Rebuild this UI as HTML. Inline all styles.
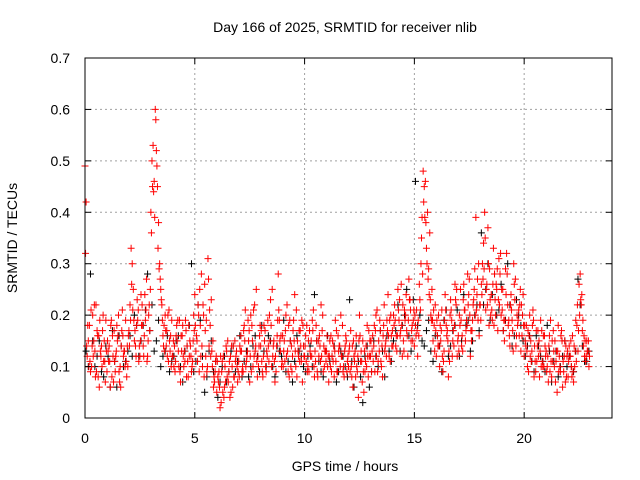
<!DOCTYPE html>
<html><head><meta charset="utf-8"><style>
body{margin:0;background:#fff}
svg{display:block;font-family:"Liberation Sans",sans-serif}
</style></head><body>
<svg id="chart" width="640" height="480" viewBox="0 0 640 480">
<rect width="640" height="480" fill="#fff"/>
<g id="grid"></g>
<g id="pts"></g>
<rect x="85" y="58" width="527" height="360" fill="none" stroke="#000" stroke-width="1"/>
<g id="ticks"></g>
<text x="345" y="32" text-anchor="middle" font-size="14">Day 166 of 2025, SRMTID for receiver nlib</text>
<text x="345" y="471" text-anchor="middle" font-size="14">GPS time / hours</text>
<text x="17" y="238" text-anchor="middle" font-size="14" transform="rotate(-90 17 238)">SRMTID / TECUs</text>
</svg>
<script>
const xTicks=[0,5,10,15,20];
const yTicks=[0,0.1,0.2,0.3,0.4,0.5,0.6,0.7];
const yTickLabels=["0","0.1","0.2","0.3","0.4","0.5","0.6","0.7"];
const redA=[.49,.12,.18,.10,.15,.22,.08,.13,.17,.11,.09,.14,.19,.07,.12,.16,.10,.21,.13,.08,.17,.33,.25,.14,.19,.12,.22,.16,.27,.20,.40,.53,.60,.45,.30,.22,.18,.14,.11,.16,.12,.09,.15,.19,.13,.10,.17,.08,.14,.11,.24,.15,.09,.28,.20,.12,.31,.18,.10,.07,.05,.09,.03,.12,.07,.15,.04,.10,.08,.13,.11,.16,.09,.21,.13,.07,.18,.12,.25,.10,.14,.08,.17,.12,.20,.10,.15,.09,.28,.13,.16,.11,.22,.08,.14,.19,.10,.13,.17,.07,.12,.18,.09,.15,.21,.11,.08,.14,.17,.10,.13,.07,.16,.11,.19,.09,.14,.12,.08,.15,.10,.17,.06,.13,.09,.20,.11,.05,.14,.08,.12,.16,.09,.21,.13,.10,.18,.15,.24,.11,.17,.22,.13,.19,.26,.15,.20,.12,.23,.18,.14,.21,.16,.30,.48,.46,.40,.36,.25,.18,.12,.20,.15,.09,.24,.17,.11,.19,.14,.22,.16,.25,.13,.21,.18,.27,.15,.23,.39,.19,.22,.30,.40,.26,.18,.24,.33,.20,.17,.28,.21,.15,.32,.19,.24,.13,.27,.18,.22,.16,.12,.18,.09,.15,.21,.11,.14,.08,.17,.10,.13,.07,.19,.11,.15,.05,.12,.17,.09,.14,.08,.12,.16,.10,.18,.26,.22,.14,.11,.13];
const redB=[.42,.15,.09,.20,.13,.17,.06,.14,.11,.19,.13,.06,.16,.11,.18,.09,.14,.12,.19,.10,.22,.30,.15,.18,.11,.24,.14,.19,.12,.17,.50,.46,.52,.38,.25,.16,.20,.12,.15,.19,.10,.16,.13,.07,.18,.11,.14,.12,.09,.20,.13,.22,.18,.10,.26,.09,.14,.23,.06,.11,.08,.02,.11,.06,.13,.09,.05,.14,.11,.07,.14,.09,.18,.11,.15,.20,.10,.13,.08,.16,.11,.18,.09,.14,.23,.12,.07,.16,.19,.10,.13,.20,.09,.15,.12,.24,.08,.17,.11,.14,.16,.10,.13,.19,.08,.15,.12,.22,.09,.13,.10,.15,.12,.08,.17,.13,.20,.09,.14,.11,.14,.08,.12,.16,.04,.11,.15,.09,.18,.12,.09,.14,.20,.11,.17,.08,.13,.19,.12,.16,.20,.14,.25,.16,.12,.21,.17,.27,.15,.19,.18,.12,.23,.39,.45,.33,.29,.20,.15,.22,.16,.10,.21,.13,.18,.08,.23,.15,.26,.12,.20,.14,.26,.17,.22,.12,.19,.29,.24,.16,.26,.34,.21,.37,.23,.19,.28,.25,.31,.20,.17,.29,.22,.14,.19,.26,.16,.21,.13,.24,.15,.10,.20,.13,.08,.17,.12,.19,.10,.14,.10,.16,.08,.13,.11,.18,.09,.06,.15,.12,.14,.10,.07,.19,.13,.28,.17,.12,.15,.10];
const redC=[.32,.18,.11,.14,.22,.09,.16,.12,.20,.07,.15,.11,.08,.17,.13,.20,.06,.16,.10,.14,.14,.26,.19,.12,.21,.15,.18,.24,.11,.22,.36,.44,.58,.33,.27,.19,.13,.17,.21,.10,.15,.11,.19,.09,.16,.13,.08,.18,.12,.15,.18,.11,.25,.14,.08,.19,.27,.12,.15,.09,.11,.06,.09,.04,.14,.07,.12,.06,.15,.10,.08,.13,.17,.10,.19,.12,.15,.22,.11,.14,.17,.12,.10,.19,.15,.25,.11,.14,.21,.16,.10,.17,.13,.19,.09,.15,.21,.12,.14,.18,.14,.09,.17,.12,.10,.18,.15,.11,.20,.13,.16,.12,.09,.14,.11,.16,.10,.18,.13,.09,.13,.10,.15,.08,.12,.16,.07,.13,.10,.17,.15,.11,.17,.09,.19,.14,.22,.12,.16,.20,.14,.19,.16,.23,.18,.13,.24,.19,.21,.15,.20,.17,.26,.35,.42,.38,.27,.23,.19,.13,.19,.14,.17,.11,.21,.15,.20,.12,.18,.25,.13,.19,.23,.15,.28,.20,.17,.25,.21,.30,.19,.27,.35,.22,.29,.21,.18,.26,.23,.32,.25,.19,.28,.16,.21,.30,.14,.19,.25,.20,.18,.13,.16,.11,.19,.09,.17,.13,.11,.16,.09,.14,.11,.17,.07,.13,.10,.15,.12,.08,.11,.15,.09,.13,.22,.20,.24,.16,.12,.15];
const redD=[.14,.10,.21,.12,.08,.16,.19,.10,.15,.13,.11,.18,.12,.09,.15,.07,.17,.13,.11,.16,.19,.21,.17,.23,.14,.18,.12,.21,.15,.25,.45,.39,.49,.29,.23,.14,.17,.20,.13,.12,.14,.18,.10,.16,.12,.19,.11,.15,.10,.17,.16,.20,.12,.22,.17,.10,.21,.13,.08,.12,.07,.12,.05,.10,.08,.11,.14,.08,.12,.09,.13,.10,.15,.12,.17,.09,.21,.14,.12,.18,.09,.15,.13,.11,.18,.14,.12,.19,.15,.11,.15,.12,.18,.10,.17,.13,.15,.11,.19,.12,.11,.15,.12,.17,.13,.09,.16,.12,.14,.11,.12,.10,.15,.13,.09,.14,.12,.10,.16,.12,.09,.14,.11,.10,.15,.13,.09,.11,.12,.15,.13,.18,.12,.15,.11,.16,.14,.17,.19,.14,.18,.16,.21,.17,.22,.19,.16,.23,.17,.21,.16,.19,.21,.28,.39,.30,.24,.19,.21,.17,.14,.18,.12,.19,.16,.13,.21,.17,.23,.15,.18,.16,.21,.19,.24,.17,.22,.20,.27,.22,.24,.29,.25,.30,.20,.26,.23,.29,.22,.25,.19,.24,.18,.22,.17,.23,.20,.16,.22,.18,.14,.17,.12,.18,.14,.11,.15,.10,.16,.12,.12,.09,.15,.10,.13,.09,.16,.11,.07,.13,.12,.08,.14,.11,.17,.23,.19,.15,.13,.12];
const black=[.13,.28,.10,.15,.08,.12,.17,.06,.14,.11,.16,.20,.12,.18,.28,.22,.15,.10,.13,.09,.12,.16,.07,.14,.30,.11,.19,.05,.13,.09,.04,.10,.07,.13,.09,.16,.11,.08,.14,.12,.18,.10,.15,.08,.13,.19,.11,.07,.16,.12,.09,.14,.24,.11,.08,.16,.12,.07,.13,.10,.23,.06,.11,.03,.14,.09,.12,.17,.08,.13,.15,.22,.18,.25,.13,.46,.20,.14,.19,.11,.16,.09,.21,.14,.18,.12,.24,.19,.15,.22,.36,.25,.19,.28,.21,.17,.30,.14,.23,.18,.12,.16,.09,.14,.11,.18,.07,.13,.10,.15,.12,.09,.27,.14,.11];
const black2=[.10,.15,.12,.09,.14,.06,.11,.16,.10,.13,.12,.18,.15,.21,.17,.13,.19,.12,.16,.11,.15,.10,.13,.18,.09,.22,.12,.08,.15,.11,.07,.12,.09,.14,.11,.08,.13,.10,.16,.09,.13,.16,.10,.14,.12,.09,.15,.11,.13,.10,.12,.10,.15,.09,.13,.11,.14,.09,.12,.08,.11,.14,.08,.12,.06,.15,.10,.13,.16,.11,.17,.13,.20,.16,.23,.18,.15,.17,.13,.16,.14,.19,.12,.17,.21,.15,.18,.13,.20,.17,.22,.30,.24,.20,.26,.19,.22,.16,.20,.15,.14,.11,.16,.12,.09,.13,.11,.08,.12,.10,.10,.13,.22,.11,.13];
const X0=85,X1=612,Y0=418,Y1=58,XMAX=24,YMAX=0.7;
const sx=v=>X0+(X1-X0)*v/XMAX, sy=v=>Y0-(Y0-Y1)*v/YMAX;
const NS="http://www.w3.org/2000/svg";
const grid=document.getElementById('grid'),ticks=document.getElementById('ticks'),pts=document.getElementById('pts');
function mk(t,a,p){const e=document.createElementNS(NS,t);for(const k in a)e.setAttribute(k,a[k]);p.appendChild(e);return e;}
xTicks.forEach(v=>{const x=sx(v);
 if(v>0){const g=mk('line',{x1:x,x2:x,y1:Y1,y2:Y0,stroke:'#a0a0a0','stroke-dasharray':'2,3'},grid);}
 const t=mk('line',{x1:x,x2:x,y1:Y0,y2:Y0-6,stroke:'#000'},ticks);
 const t2=mk('line',{x1:x,x2:x,y1:Y1,y2:Y1+6,stroke:'#000'},ticks);
 const l=mk('text',{x:x,y:443,'text-anchor':'middle','font-size':14},ticks);l.textContent=v;});
yTicks.forEach((v,i)=>{const y=sy(v);
 if(v>0&&v<YMAX){const g=mk('line',{x1:X0,x2:X1,y1:y,y2:y,stroke:'#a0a0a0','stroke-dasharray':'2,3'},grid);}
 const t=mk('line',{x1:X0,x2:X0+6,y1:y,y2:y,stroke:'#000'},ticks);
 const t2=mk('line',{x1:X1,x2:X1-6,y1:y,y2:y,stroke:'#000'},ticks);
 const l=mk('text',{x:70,y:y+5,'text-anchor':'end','font-size':14},ticks);l.textContent=yTickLabels[i];});
function plus(t,v,c,name){const x=sx(t),y=sy(v);
 const p=mk('path',{d:`M${x-3.5},${y}H${x+3.5}M${x},${y-3.5}V${y+3.5}`,stroke:c,'stroke-width':1,fill:'none'},pts);
 
 }
black.forEach((v,i)=>plus(i*0.2+0.05,v,'#000','black-point'));
black2.forEach((v,i)=>plus(i*0.2+0.15,v,'#000','black-point'));
redA.forEach((v,i)=>plus(i*0.1,v,'#f00','red-point'));
redB.forEach((v,i)=>plus(i*0.1+0.05,v,'#f00','red-point'));
redC.forEach((v,i)=>plus(i*0.1+0.025,v,'#f00','red-point'));
redD.forEach((v,i)=>plus(i*0.1+0.075,v,'#f00','red-point'));
</script>
</body></html>
